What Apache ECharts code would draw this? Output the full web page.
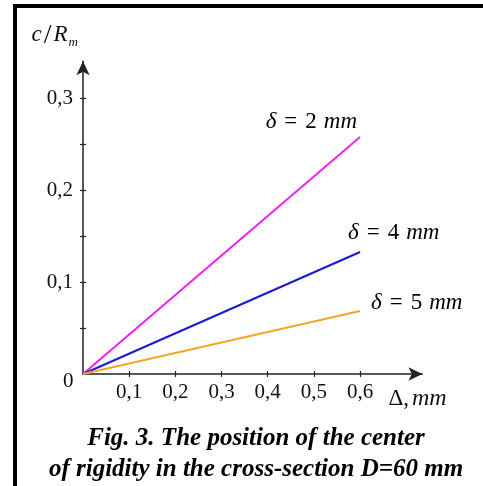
<!DOCTYPE html>
<html>
<head>
<meta charset="utf-8">
<style>
html,body{margin:0;padding:0;background:#fff;}
#c{width:483px;height:486px;}
</style>
<script src="https://cdn.jsdelivr.net/npm/echarts@6/dist/echarts.min.js"></script>
</head>
<body>
<div id="c"></div>
<script>
// Data
const deltaX = [0, 0.6];
const delta2 = [0, 0.2576];
const delta4 = [0, 0.1326];
const delta5 = [0, 0.0685];
const seriesNames = ['2', '4', '5'];
const xTickValues = [0.1, 0.2, 0.3, 0.4, 0.5, 0.6];
const xLabelValues = [0.1, 0.2, 0.3, 0.4, 0.5, 0.6];
const yTickValues = [0.05, 0.1, 0.15, 0.2, 0.25, 0.3];
const yLabelValues = [0.1, 0.2, 0.3];

const FONT = '"Liberation Serif", "Times New Roman", serif';
const AX = '#222';
const comma = v => String(Math.round(v * 10) / 10).replace('.', ',');

function pairs(ys) { return deltaX.map((x, i) => [x, ys[i]]); }

function endLbl(name, align, offset) {
  const base = { fontFamily: FONT, fontSize: 23, color: '#000' };
  return {
    show: true, color: '#000', fontFamily: FONT, fontSize: 23,
    align: align, verticalAlign: 'middle', offset: offset, distance: 0,
    formatter: '{i|δ}{e|=}{n|' + name + '}{i|mm}',
    rich: {
      i: Object.assign({ fontStyle: 'italic' }, base),
      e: Object.assign({ padding: [0, 8, 0, 8] }, base),
      n: Object.assign({ padding: [0, 7, 0, 0] }, base)
    }
  };
}

const chart = echarts.init(document.getElementById('c'), null, { renderer: 'canvas' });
chart.setOption({
  backgroundColor: '#fff',
  animation: false,
  title: {
    text: 'Fig. 3. The position of the center\nof rigidity in the cross-section D=60 mm',
    left: 251, top: 418, textAlign: 'center',
    textStyle: { fontFamily: FONT, fontSize: 25, fontWeight: 'bold', fontStyle: 'italic', color: '#000', lineHeight: 31 }
  },
  grid: { left: 83, right: 60.6, top: 61.2, bottom: 112, containLabel: false },
  xAxis: [{
    type: 'value', min: 0, max: 0.735, position: 'bottom',
    axisLine: { show: true, onZero: false, lineStyle: { color: AX, width: 1.5 }, symbol: ['none', 'arrow'], symbolSize: [10, 14] },
    axisTick: { show: true, inside: true, length: 3, customValues: xTickValues, lineStyle: { color: AX, width: 1.2 } },
    axisLabel: { show: true, customValues: xLabelValues, formatter: comma, margin: 8, fontFamily: FONT, fontSize: 21, color: '#111' },
    splitLine: { show: false },
    name: '{u|Δ,}{i|mm}', nameLocation: 'end', nameGap: -34,
    nameTextStyle: { align: 'left', verticalAlign: 'top', padding: [13, 0, 0, 0],
      rich: { u: { fontFamily: FONT, fontSize: 23, color: '#111', padding: [0, 3, 0, 0] }, i: { fontFamily: FONT, fontSize: 24, fontStyle: 'italic', color: '#111' } } }
  }, {
    type: 'value', min: 0, max: 0.735, position: 'bottom',
    axisLine: { show: false, onZero: false },
    axisTick: { show: true, inside: false, length: 3, customValues: xTickValues, lineStyle: { color: AX, width: 1.2 } },
    axisLabel: { show: false }, splitLine: { show: false }
  }],
  yAxis: [{
    type: 'value', min: 0, max: 0.34, position: 'left',
    axisLine: { show: true, onZero: false, lineStyle: { color: AX, width: 1.5 }, symbol: ['none', 'arrow'], symbolSize: [10, 14] },
    axisTick: { show: true, inside: true, length: 3, customValues: yTickValues, lineStyle: { color: AX, width: 1.2 } },
    axisLabel: { show: true, customValues: yLabelValues, formatter: comma, margin: 10, fontFamily: FONT, fontSize: 21, color: '#111' },
    splitLine: { show: false },
    name: '{i|c}{u|/}{i|R}{s|m}', nameLocation: 'end', nameGap: 12,
    nameTextStyle: { align: 'right', padding: [0, 5, 0, 0],
      rich: {
        i: { fontFamily: FONT, fontSize: 23, fontStyle: 'italic', color: '#111' },
        u: { fontFamily: FONT, fontSize: 28, color: '#111', padding: [0, 2, 0, 2] },
        s: { fontFamily: FONT, fontSize: 13, fontStyle: 'italic', color: '#111', padding: [14, 0, 0, 1] }
      } }
  }, {
    type: 'value', min: 0, max: 0.34, position: 'left',
    axisLine: { show: false, onZero: false },
    axisTick: { show: true, inside: false, length: 3, customValues: yTickValues, lineStyle: { color: AX, width: 1.2 } },
    axisLabel: { show: false }, splitLine: { show: false }
  }],
  series: [
    { type: 'line', name: seriesNames[0], data: pairs(delta2), xAxisIndex: 0, yAxisIndex: 0, symbol: 'none',
      lineStyle: { color: '#ee22ee', width: 2 }, itemStyle: { color: '#ee22ee' },
      endLabel: endLbl(seriesNames[0], 'right', [-3, -15]) },
    { type: 'line', name: seriesNames[1], data: pairs(delta4), xAxisIndex: 0, yAxisIndex: 0, symbol: 'none',
      lineStyle: { color: '#1a1ad0', width: 2 }, itemStyle: { color: '#1a1ad0' },
      endLabel: endLbl(seriesNames[1], 'left', [-12, -19]) },
    { type: 'line', name: seriesNames[2], data: pairs(delta5), xAxisIndex: 0, yAxisIndex: 0, symbol: 'none',
      lineStyle: { color: '#f5a623', width: 2 }, itemStyle: { color: '#f5a623' },
      endLabel: endLbl(seriesNames[2], 'left', [11, -8]) }
  ],
  graphic: [
    { type: 'rect', shape: { x: 13, y: 4, width: 4, height: 482 }, style: { fill: '#000' } },
    { type: 'rect', shape: { x: 13, y: 4, width: 470, height: 4 }, style: { fill: '#000' } },
    { type: 'text', left: 63, top: 371, style: { text: '0', fontFamily: FONT, fontSize: 21, fill: '#111' } }
  ]
});
</script>
</body>
</html>
